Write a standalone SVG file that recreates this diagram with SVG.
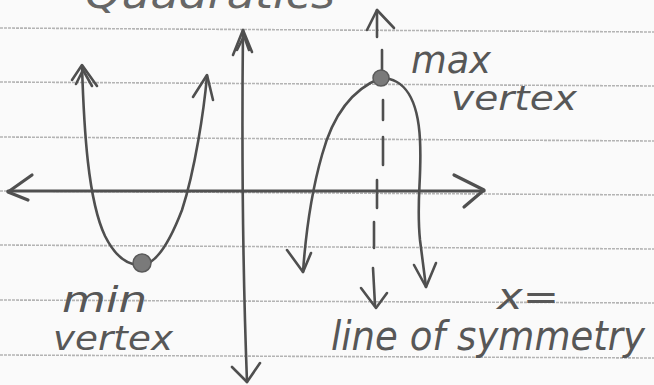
<svg xmlns="http://www.w3.org/2000/svg" width="654" height="385" viewBox="0 0 654 385">
<style>
.rule{stroke:#b4b4b4;stroke-width:1.6;fill:none;stroke-dasharray:3 1}
.pen{stroke:#4f4f4f;stroke-width:2.6;fill:none;stroke-linecap:round;stroke-linejoin:round}
.axis{stroke:#505050;stroke-width:3.2;fill:none;stroke-linecap:round;stroke-linejoin:round}
.hand{font-family:"DejaVu Sans","Liberation Sans",sans-serif;fill:#575757;font-style:italic}
.dot{fill:#7a7a7a;stroke:#5a5a5a;stroke-width:1.5}
</style>
<rect width="654" height="385" fill="#fafafa"/>
<g id="paper">
<line class="rule" x1="0" y1="28" x2="654" y2="32"/>
<line class="rule" x1="0" y1="82" x2="654" y2="86"/>
<line class="rule" x1="0" y1="137" x2="654" y2="141"/>
<line class="rule" x1="0" y1="191" x2="654" y2="195"/>
<line class="rule" x1="0" y1="245" x2="654" y2="249"/>
<line class="rule" x1="0" y1="300" x2="654" y2="303"/>
<line class="rule" x1="0" y1="355" x2="654" y2="358"/>
</g>
<g id="title">
<text class="hand" x="85" y="8" font-size="40" textLength="250" lengthAdjust="spacingAndGlyphs" style="fill:#666">Quadratics</text>
</g>
<g id="connectors">
<!-- x-axis -->
<path class="axis" d="M8,191 L484,191"/>
<polyline class="axis" points="32,175 8,192 28,200"/>
<polyline class="axis" points="454,175 484,190 464,207"/>
<!-- y-axis -->
<path class="pen" d="M243,30 C242,120 242,250 247,382"/>
<polyline class="pen" points="233,55 243,30 252,52"/>
<polyline class="pen" points="237,50 244,36 249,50"/>
<polyline class="pen" points="232,367 247,382 260,363"/>
<!-- left parabola -->
<path class="pen" d="M82,66 C84,130 88,200 105,236 C115,256 128,266 142,265 C158,264 172,236 182,210 C195,170 204,110 207,76"/>
<polyline class="pen" points="72,80 82,65 97,86"/>
<polyline class="pen" points="76,84 83,70 92,86"/>
<polyline class="pen" points="193,97 207,75 213,100"/>
<!-- right parabola -->
<path class="pen" d="M303,272 C306,230 312,190 322,155 C332,118 350,90 381,78"/>
<path class="pen" d="M381,78 C405,78 418,100 420,140 C422,180 416,200 420,240 L426,287"/>
<polyline class="pen" points="287,250 303,272 311,253"/>
<polyline class="pen" points="414,265 426,287 436,263"/>
<!-- line of symmetry (dashed) -->
<path class="pen" d="M377,10 L377,37 M382,50 L382,78 M383,100 L383,120 M383,137 L383,165 M377,180 L377,208 M374,222 L374,248 M373,268 L375,305"/>
<polyline class="pen" points="367,30 377,10 394,28"/>
<polyline class="pen" points="361,288 376,308 387,293"/>
</g>
<g id="min-vertex">
<circle class="dot" cx="142" cy="263" r="9"/>
<text class="hand" x="62" y="312" font-size="36" textLength="85" lengthAdjust="spacingAndGlyphs">min</text>
<text class="hand" x="53" y="350" font-size="34" textLength="120" lengthAdjust="spacingAndGlyphs">vertex</text>
</g>
<g id="max-vertex">
<circle class="dot" cx="381" cy="78" r="8"/>
<text class="hand" x="411" y="73" font-size="38" textLength="80" lengthAdjust="spacingAndGlyphs">max</text>
<text class="hand" x="451" y="110" font-size="34" textLength="126" lengthAdjust="spacingAndGlyphs">vertex</text>
</g>
<g id="symmetry-label">
<text class="hand" x="497" y="309" font-size="36" textLength="62" lengthAdjust="spacingAndGlyphs">x=</text>
<text class="hand" x="331" y="350" font-size="40" textLength="314" lengthAdjust="spacingAndGlyphs">line of symmetry</text>
</g>
</svg>
